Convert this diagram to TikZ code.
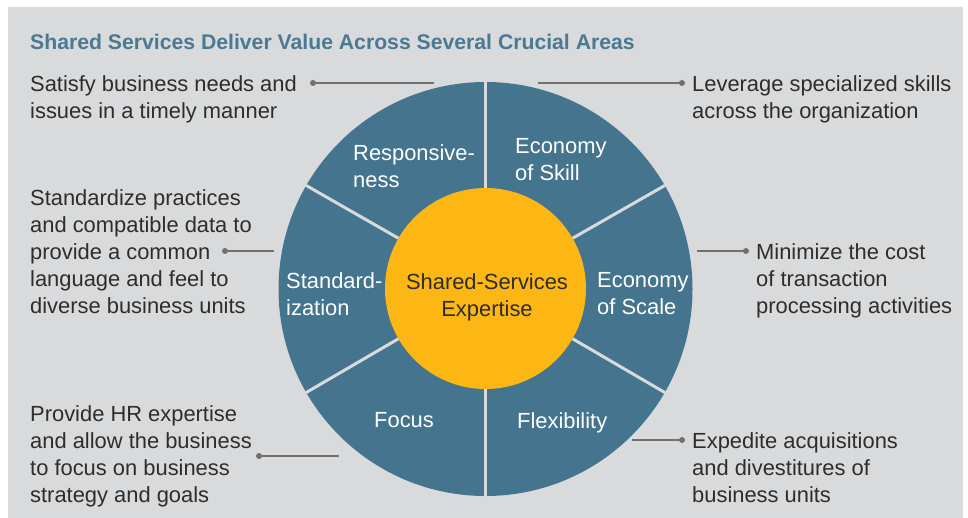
\documentclass[tikz,border=0pt]{standalone}
\usepackage{fontspec}
\setmainfont{Liberation Sans}
\definecolor{panel}{RGB}{217,218,220}
\definecolor{wheelblue}{RGB}{68,116,142}
\definecolor{hubgold}{RGB}{252,183,20}
\definecolor{titleblue}{RGB}{74,121,148}
\definecolor{txtgray}{RGB}{45,45,45}
\definecolor{leadgray}{RGB}{112,112,112}
\begin{document}
\begin{tikzpicture}[x=1pt,y=-1pt,
  bodyfont/.style={font=\fontsize{21.9}{27}\selectfont},
  callout/.style={bodyfont, anchor=north west, inner sep=0pt, align=left, text=txtgray},
  segtext/.style={bodyfont, anchor=north west, inner sep=0pt, align=left, text=white},
  leader/.style={draw=leadgray, line width=1.6pt},
  dot/.style={circle, fill=leadgray, inner sep=0pt, minimum size=6pt},
  divider/.style={draw=panel, line width=3pt}]
\useasboundingbox (0,0) rectangle (968,518);
% grey panel
\fill[panel] (8,7) rectangle (963,518);

% title
\node[anchor=base west, inner sep=0pt, text=titleblue,
      font=\bfseries\fontsize{21.2}{24}\selectfont] (title) at (30,50)
  {Shared Services Deliver Value Across Several Crucial Areas};

% wheel with six segments and the central hub
\node[circle, fill=wheelblue, minimum size=414pt, inner sep=0pt] (wheel) at (485.5,289) {};
\node[circle, fill=hubgold, minimum size=201pt, inner sep=0pt] (hub) at (485.5,288.5) {};
\foreach \a in {90,30,-30,-90,-150,150}
  \draw[divider] (hub.\a) -- (wheel.\a);

\node[bodyfont, anchor=north, inner sep=0pt, align=center, text=txtgray] (hubtext) at (487,273)
  {Shared-Services\\Expertise};

% segment labels
\node[segtext] (resp)  at (353,144) {Responsive-\\ness};
\node[segtext] (skill) at (515,138) {Economy\\of Skill};
\node[segtext] (stand) at (286,272) {Standard-\\ization};
\node[segtext] (scale) at (597,272) {Economy\\of Scale};
\node[segtext] (focus) at (374,412) {Focus};
\node[segtext] (flex)  at (517,412) {Flexibility};

% descriptions
\node[callout] (c1) at (30,75)  {Satisfy business needs and\\issues in a timely manner};
\node[callout] (c2) at (692,75) {Leverage specialized skills\\across the organization};
\node[callout] (c3) at (30,189) {Standardize practices\\and compatible data to\\provide a common\\language and feel to\\diverse business units};
\node[callout] (c4) at (756,243) {Minimize the cost\\of transaction\\processing activities};
\node[callout] (c5) at (30,405) {Provide HR expertise\\and allow the business\\to focus on business\\strategy and goals};
\node[callout] (c6) at (692,432) {Expedite acquisitions\\and divestitures of\\business units};

% leader lines
\node[dot] (d1) at (313,83) {};  \coordinate (e1) at (434,83);
\node[dot] (d2) at (682,83) {};  \coordinate (e2) at (538,83);
\node[dot] (d3) at (225,251) {}; \coordinate (e3) at (274,251);
\node[dot] (d4) at (746,251) {}; \coordinate (e4) at (697,251);
\node[dot] (d5) at (259,456) {}; \coordinate (e5) at (339,456);
\node[dot] (d6) at (682,440) {}; \coordinate (e6) at (632,440);
\foreach \i in {1,...,6}
  \draw[leader] (d\i.center) -- (e\i);
\end{tikzpicture}
\end{document}
